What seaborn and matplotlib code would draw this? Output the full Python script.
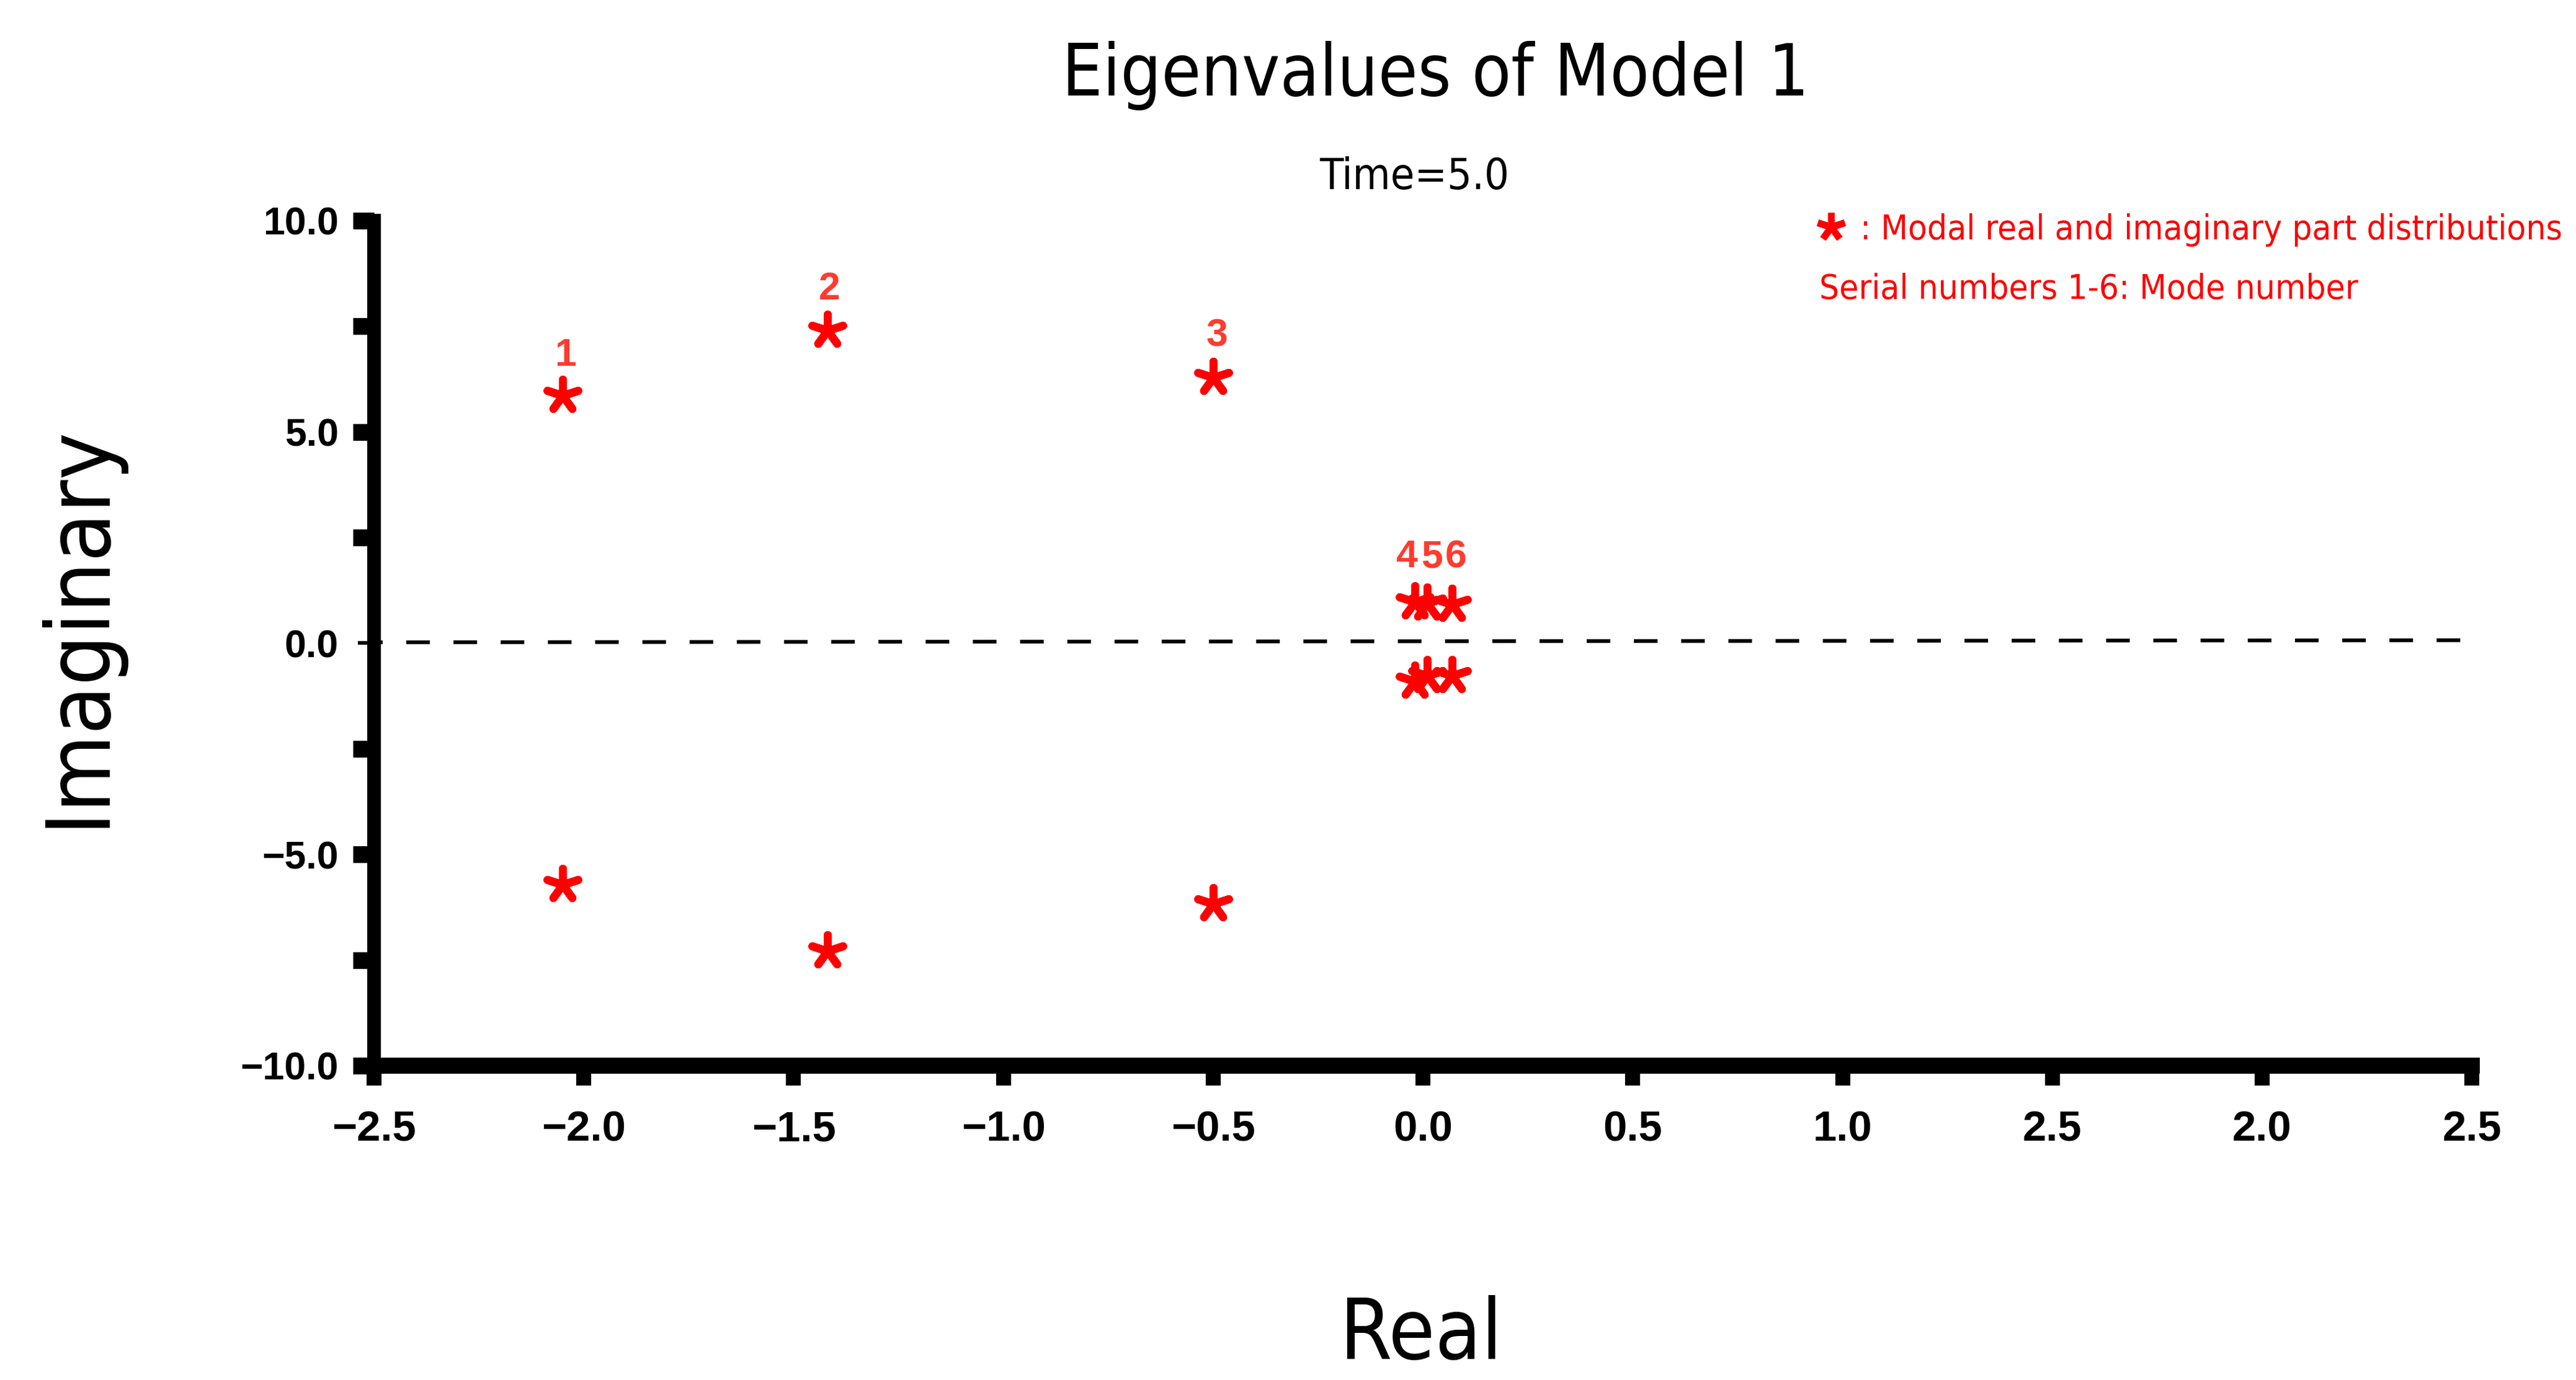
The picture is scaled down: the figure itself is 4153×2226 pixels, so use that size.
import matplotlib
matplotlib.use('Agg')
import matplotlib.pyplot as plt
import seaborn as sns
import pandas as pd
from matplotlib import font_manager
from matplotlib.font_manager import FontProperties

# eigenvalues of each mode (conjugate pairs)
modes = [1, 2, 3, 4, 5, 6]
real_part = [-2.05, -1.42, -0.50, -0.02, 0.01, 0.07]
imag_upper = [5.86, 7.40, 6.29, 0.98, 0.95, 0.92]
imag_lower = [-5.72, -7.28, -6.17, -0.90, -0.77, -0.77]

# axis ticks and labels
x_ticks = [-2.5, -2.0, -1.5, -1.0, -0.5, 0.0, 0.5, 1.0, 1.5, 2.0, 2.5]
x_tick_labels = ['−2.5', '−2.0', '−1.5', '−1.0', '−0.5', '0.0', '0.5', '1.0', '2.5', '2.0', '2.5']
y_ticks = [-10, -5, 0, 5, 10]
y_tick_labels = ['−10.0', '−5.0', '0.0', '5.0', '10.0']
y_minor_ticks = [-7.5, -2.5, 2.5, 7.5]

# dashed zero reference line
ref_x = [-2.5, 2.5]
ref_y = [0.02, 0.07]

# label offsets (points) for the mode numbers
label_dx = [1.0, 1.0, 1.4, -2.9, 1.9, 1.4]
label_dy = [15.6, 16.0, 16.0, 17.3, 17.8, 18.2]

sns.set_style('ticks')
plt.rcParams['font.family'] = ['Liberation Sans', 'DejaVu Sans']
plt.rcParams['axes.unicode_minus'] = True
for key in ['text.color', 'axes.labelcolor', 'xtick.color', 'ytick.color', 'axes.edgecolor']:
    plt.rcParams[key] = 'black'

# look for a narrow / condensed face for the titles, otherwise plain Liberation Sans
narrow_fp = None
for wanted in ['LiberationSansNarrow-Regular', 'DejaVuSansCondensed.', 'RobotoCondensed-Regular',
               'Roboto-Condensed', 'NotoSans-Condensed.', 'OpenSans-CondensedRegular',
               'OpenSans_Condensed-Regular']:
    for f in font_manager.fontManager.ttflist:
        if wanted in f.fname:
            narrow_fp = FontProperties(fname=f.fname)
            break
    if narrow_fp is not None:
        break
if narrow_fp is None:
    narrow_fp = FontProperties(family='Liberation Sans')

df = pd.DataFrame({'real': real_part + real_part,
                   'imag': imag_upper + imag_lower})

fig = plt.figure(figsize=(4153 / 300, 2226 / 300), dpi=300)
ax = fig.add_axes([0.1452, 0.2278, 0.8144, 0.6123])

ax.plot(ref_x, ref_y, color='black', lw=1.45, linestyle=(4.0, (6.3, 6.3)), zorder=1)

sns.scatterplot(data=df, x='real', y='imag', marker=(5, 2, 0), s=156,
                color='#ff0000', linewidth=3.1, ax=ax, zorder=3, legend=False)

for i, m in enumerate(modes):
    ax.annotate(str(m), (real_part[i], imag_upper[i]),
                xytext=(label_dx[i], label_dy[i]), textcoords='offset points',
                ha='center', va='center', fontsize=15, fontweight='bold',
                color='#ff3b2f', family='Liberation Sans')

ax.set_xlim(-2.5, 2.5)
ax.set_ylim(-10, 10)
ax.set_xticks(x_ticks)
ax.set_xticklabels(x_tick_labels, fontsize=16.5, fontweight='bold')
ax.set_yticks(y_ticks)
ax.set_yticklabels(y_tick_labels, fontsize=15, fontweight='bold')
ax.set_yticks(y_minor_ticks, minor=True)
ax.set_xlabel('')
ax.set_ylabel('')

sns.despine(ax=ax)
ax.spines['left'].set_linewidth(5.3)
ax.spines['bottom'].set_linewidth(6.2)

ax.tick_params(axis='y', which='both', direction='out', length=8.2, width=6.5,
               pad=5.5, color='black')
ax.tick_params(axis='x', which='major', direction='out', length=7.6, width=5.8,
               pad=9.5, color='black')

# the zero tick on the y axis is a thin one
zero_tick = ax.yaxis.get_major_ticks()[2]
zero_tick.tick1line.set_markeredgewidth(1.4)
zero_tick.tick1line.set_markersize(6.2)

title = fig.text(0.5572, 0.9308, 'Eigenvalues of Model 1', fontproperties=narrow_fp,
                 fontsize=34, ha='center', va='baseline')
subtitle = fig.text(0.549, 0.863, 'Time=5.0', fontproperties=narrow_fp, fontsize=22,
                    ha='center', va='baseline')
xlab = fig.text(2291 / 4153, (2226 - 2192) / 2226, 'Real', fontproperties=narrow_fp,
                fontsize=37, ha='center', va='baseline')
ylab = fig.text(165 / 4153, (2226 - 1010) / 2226, 'Imaginary', fontproperties=narrow_fp,
                fontsize=43, rotation=90, rotation_mode='anchor', ha='center', va='baseline')

# legend-like notes
ax.plot([2952 / 4153], [(2226 - 366) / 2226], transform=fig.transFigure,
        marker=(5, 2, 0), markersize=11, markeredgewidth=2.6, color='#ff0000',
        clip_on=False, linestyle='none')
note1 = fig.text(2999 / 4153, (2226 - 386) / 2226, ': Modal real and imaginary part distributions',
                 fontproperties=narrow_fp, fontsize=16.8, color='#ff0000', ha='left', va='baseline')
note2 = fig.text(2933 / 4153, (2226 - 482) / 2226, 'Serial numbers 1-6: Mode number',
                 fontproperties=narrow_fp, fontsize=16.8, color='#ff0000', ha='left', va='baseline')

# size the narrow texts so their lengths match the reference (in pixels)
fig.canvas.draw()
renderer = fig.canvas.get_renderer()
for t, target, vertical in [(title, 1205, False), (subtitle, 306, False), (xlab, 262, False),
                            (ylab, 650, True), (note1, 1131, False), (note2, 869, False)]:
    for _ in range(2):
        bb = t.get_window_extent(renderer)
        length = bb.height if vertical else bb.width
        t.set_fontsize(t.get_fontsize() * target / length)

fig.savefig('out.png', dpi=300)
